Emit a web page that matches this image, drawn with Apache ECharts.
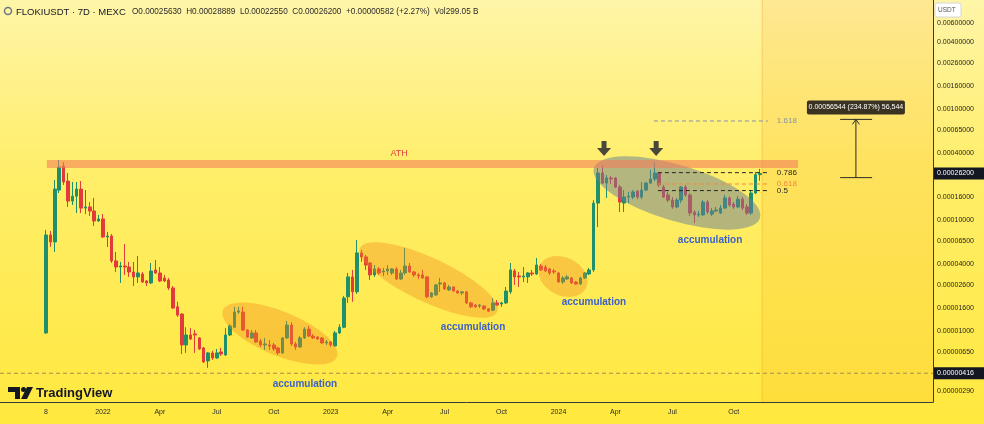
<!DOCTYPE html>
<html><head><meta charset="utf-8">
<script src="https://cdn.jsdelivr.net/npm/echarts@6/dist/echarts.min.js"></script>
<style>
html,body{margin:0;padding:0;}
#c{width:984px;height:424px;background:linear-gradient(to bottom,#fff5a8 0%,#ffee6a 40%,#ffe83e 100%);}
</style>
</head><body><div id="c"></div>
<script>
// ---- Weekly FLOKIUSDT candles (MEXC), first week = 2021-10-04 ----
const opens = [9.6e-6,7.33e-5,6.34e-5,1.86e-4,3.06e-4,2.24e-4,1.48e-4,1.64e-4,1.90e-4,1.28e-4,
1.31e-4,1.205e-4,9.79e-5,1.021e-4,7.03e-5,7.18e-5,4.28e-5,3.77e-5,3.85e-5,3.77e-5,
3.40e-5,3.07e-5,3.26e-5,2.82e-5,2.71e-5,3.55e-5,3.33e-5,3.00e-5,2.88e-5,2.44e-5,
1.65e-5,1.42e-5,7.48e-6,9.2e-6,9.4e-6,8.65e-6,7.03e-6,5.37e-6,6.34e-6,5.71e-6,
6.47e-6,6.08e-6,9.2e-6,1.08e-5,1.48e-5,1.48e-5,1.02e-5,8.65e-6,9.6e-6,8.12e-6,
7.48e-6,7.48e-6,7.48e-6,7.03e-6,6.34e-6,8.65e-6,1.13e-5,7.64e-6,7.18e-6,8.65e-6,
1.04e-5,9.0e-6,8.8e-6,8.65e-6,7.8e-6,7.96e-6,7.33e-6,9.6e-6,1.08e-5,2.03e-5,
3.07e-5,2.25e-5,5.05e-5,4.65e-5,4.10e-5,3.20e-5,3.62e-5,3.40e-5,3.47e-5,3.33e-5,
3.62e-5,2.94e-5,3.33e-5,3.85e-5,3.40e-5,3.20e-5,3.20e-5,3.07e-5,2.03e-5,2.11e-5,
2.65e-5,2.71e-5,2.34e-5,2.49e-5,2.29e-5,2.20e-5,2.25e-5,1.79e-5,1.71e-5,1.68e-5,
1.68e-5,1.58e-5,1.54e-5,1.79e-5,1.75e-5,1.79e-5,2.25e-5,3.47e-5,3.13e-5,3.07e-5,
3.07e-5,3.33e-5,3.26e-5,3.85e-5,3.77e-5,3.62e-5,3.47e-5,3.33e-5,2.76e-5,2.94e-5,
3.00e-5,2.76e-5,2.65e-5,3.00e-5,3.26e-5,3.55e-5,1.42e-4,2.65e-4,2.15e-4,2.39e-4,
2.39e-4,1.98e-4,1.42e-4,1.61e-4,1.61e-4,1.82e-4,1.61e-4,1.86e-4,2.15e-4,2.34e-4,
2.65e-4,1.98e-4,1.68e-4,1.51e-4,1.31e-4,1.51e-4,1.98e-4,1.68e-4,1.18e-4,1.11e-4,
1.11e-4,1.45e-4,1.13e-4,1.205e-4,1.155e-4,1.28e-4,1.58e-4,1.39e-4,1.31e-4,1.54e-4,
1.31e-4,1.155e-4,1.75e-4,2.563e-4];
const highs = [8.13e-5,7.96e-5,2.29e-4,3.47e-4,3.33e-4,2.65e-4,2.20e-4,2.20e-4,2.24e-4,1.86e-4,
1.45e-4,1.58e-4,1.11e-4,1.13e-4,7.80e-5,7.48e-5,5.15e-5,4.19e-5,6.08e-5,4.19e-5,
4.19e-5,4.74e-5,3.40e-5,2.88e-5,4.10e-5,4.36e-5,3.77e-5,3.20e-5,3.00e-5,2.54e-5,
1.83e-5,1.45e-5,1.08e-5,1.06e-5,1.02e-5,8.8e-6,7.18e-6,6.47e-6,6.61e-6,6.89e-6,
7.03e-6,1.06e-5,1.15e-5,1.65e-5,1.65e-5,1.65e-5,1.04e-5,1.02e-5,1.02e-5,8.47e-6,
8.65e-6,8.3e-6,7.8e-6,7.18e-6,8.8e-6,1.23e-5,1.20e-5,7.96e-6,9.0e-6,1.08e-5,
1.11e-5,9.4e-6,9.0e-6,8.8e-6,8.3e-6,8.12e-6,1.00e-5,1.15e-5,2.07e-5,3.33e-5,
3.55e-5,6.60e-5,5.37e-5,4.84e-5,4.19e-5,3.93e-5,3.77e-5,3.70e-5,3.93e-5,3.70e-5,
3.77e-5,3.55e-5,5.60e-5,4.10e-5,3.47e-5,3.33e-5,3.55e-5,3.13e-5,2.25e-5,2.65e-5,
3.00e-5,2.76e-5,2.60e-5,2.54e-5,2.34e-5,2.29e-5,2.29e-5,1.83e-5,1.75e-5,1.75e-5,
1.71e-5,1.61e-5,1.98e-5,1.90e-5,1.83e-5,2.49e-5,4.10e-5,3.62e-5,3.40e-5,3.77e-5,
3.40e-5,3.55e-5,4.55e-5,4.02e-5,3.93e-5,3.70e-5,3.62e-5,3.40e-5,3.13e-5,3.20e-5,
3.07e-5,2.82e-5,3.07e-5,3.40e-5,3.70e-5,1.51e-4,2.94e-4,3.13e-4,2.54e-4,2.49e-4,
2.44e-4,2.07e-4,1.86e-4,1.79e-4,1.86e-4,1.86e-4,2.20e-4,2.20e-4,2.82e-4,3.33e-4,
2.70e-4,2.07e-4,1.79e-4,1.61e-4,1.58e-4,2.02e-4,2.07e-4,1.75e-4,1.23e-4,1.205e-4,
1.51e-4,1.51e-4,1.28e-4,1.31e-4,1.365e-4,1.68e-4,1.64e-4,1.45e-4,1.64e-4,1.61e-4,
1.39e-4,1.86e-4,2.70e-4,2.8889e-4];
const lows = [9.4e-6,5.71e-5,5.15e-5,1.75e-4,2.07e-4,1.31e-4,1.365e-4,1.155e-4,1.155e-4,1.13e-4,
1.087e-4,8.83e-5,9.59e-5,6.89e-5,5.71e-5,4.10e-5,3.40e-5,2.71e-5,3.20e-5,3.07e-5,
2.54e-5,2.71e-5,2.71e-5,2.54e-5,2.65e-5,3.26e-5,2.76e-5,2.76e-5,2.34e-5,1.58e-5,
1.34e-5,6.21e-6,6.34e-6,8.3e-6,6.34e-6,6.75e-6,5.15e-6,4.65e-6,5.48e-6,5.6e-6,
5.96e-6,5.96e-6,9.0e-6,1.06e-5,1.42e-5,1.00e-5,8.65e-6,8.47e-6,7.8e-6,7.18e-6,
6.75e-6,6.75e-6,6.61e-6,6.08e-6,6.21e-6,8.47e-6,7.33e-6,6.75e-6,7.03e-6,8.47e-6,
8.8e-6,8.47e-6,8.3e-6,7.64e-6,7.48e-6,7.18e-6,7.18e-6,9.4e-6,1.06e-5,1.79e-5,
1.83e-5,2.16e-5,4.19e-5,3.55e-5,2.88e-5,3.07e-5,3.20e-5,3.13e-5,3.20e-5,3.20e-5,
2.88e-5,2.88e-5,3.20e-5,3.33e-5,3.07e-5,2.94e-5,2.94e-5,1.98e-5,1.98e-5,2.07e-5,
2.25e-5,2.34e-5,2.29e-5,2.25e-5,2.16e-5,2.11e-5,1.75e-5,1.61e-5,1.61e-5,1.61e-5,
1.54e-5,1.48e-5,1.51e-5,1.68e-5,1.65e-5,1.75e-5,2.16e-5,2.60e-5,2.49e-5,2.76e-5,
2.71e-5,3.13e-5,3.20e-5,3.47e-5,3.40e-5,3.20e-5,3.26e-5,2.71e-5,2.65e-5,2.88e-5,
2.65e-5,2.60e-5,2.60e-5,2.94e-5,3.20e-5,3.40e-5,8.65e-5,2.11e-4,1.58e-4,2.11e-4,
1.94e-4,1.18e-4,1.18e-4,1.42e-4,1.54e-4,1.54e-4,1.54e-4,1.82e-4,2.11e-4,2.24e-4,
1.98e-4,1.58e-4,1.45e-4,1.26e-4,1.28e-4,1.42e-4,1.61e-4,1.087e-4,9.40e-5,1.064e-4,
1.087e-4,1.13e-4,1.087e-4,1.18e-4,1.13e-4,1.26e-4,1.31e-4,1.26e-4,1.28e-4,1.23e-4,
1.11e-4,1.11e-4,1.71e-4,2.255e-4];
const closes = [7.33e-5,6.34e-5,1.90e-4,3.00e-4,2.20e-4,1.48e-4,1.64e-4,1.90e-4,1.28e-4,1.31e-4,
1.205e-4,9.79e-5,1.021e-4,7.03e-5,7.18e-5,4.28e-5,3.77e-5,3.85e-5,3.77e-5,3.40e-5,
3.07e-5,3.33e-5,2.76e-5,2.71e-5,3.47e-5,3.33e-5,2.82e-5,2.82e-5,2.44e-5,1.61e-5,
1.39e-5,7.48e-6,9.2e-6,8.47e-6,9.2e-6,6.89e-6,5.26e-6,6.34e-6,5.71e-6,6.34e-6,
6.21e-6,9.2e-6,1.11e-5,1.48e-5,1.51e-5,1.02e-5,8.8e-6,9.6e-6,7.96e-6,7.48e-6,
7.64e-6,7.33e-6,6.89e-6,6.34e-6,8.65e-6,1.13e-5,7.64e-6,7.18e-6,8.65e-6,1.04e-5,
9.0e-6,8.65e-6,8.47e-6,7.8e-6,7.96e-6,7.48e-6,9.6e-6,1.08e-5,1.98e-5,3.07e-5,
2.25e-5,5.05e-5,4.65e-5,3.93e-5,3.20e-5,3.62e-5,3.33e-5,3.47e-5,3.62e-5,3.62e-5,
2.94e-5,3.33e-5,3.85e-5,3.40e-5,3.20e-5,3.13e-5,3.00e-5,2.03e-5,2.20e-5,2.60e-5,
2.71e-5,2.39e-5,2.49e-5,2.29e-5,2.20e-5,2.25e-5,1.79e-5,1.65e-5,1.65e-5,1.71e-5,
1.58e-5,1.51e-5,1.79e-5,1.71e-5,1.79e-5,2.29e-5,3.55e-5,3.07e-5,3.07e-5,3.13e-5,
3.33e-5,3.26e-5,3.93e-5,3.55e-5,3.47e-5,3.33e-5,3.40e-5,2.76e-5,3.00e-5,3.07e-5,
2.71e-5,2.65e-5,3.00e-5,3.33e-5,3.55e-5,1.42e-4,2.65e-4,2.15e-4,2.39e-4,2.34e-4,
1.98e-4,1.45e-4,1.61e-4,1.64e-4,1.79e-4,1.61e-4,1.86e-4,2.15e-4,2.34e-4,2.65e-4,
2.07e-4,1.61e-4,1.51e-4,1.31e-4,1.51e-4,1.98e-4,1.68e-4,1.155e-4,1.11e-4,1.13e-4,
1.45e-4,1.18e-4,1.205e-4,1.23e-4,1.28e-4,1.58e-4,1.365e-4,1.31e-4,1.54e-4,1.28e-4,
1.155e-4,1.75e-4,2.5618e-4,2.62e-4];

// time axis tick labels (week index -> text)
const xTickIndex = [0,13,26,39,52,65,78,91,104,117,130,143,157];
const xTickText  = ['8','2022','Apr','Jul','Oct','2023','Apr','Jul','Oct','2024','Apr','Jul','Oct'];
// price axis labels
const yTickValues = [0.006,0.004,0.0026,0.0016,0.001,0.00065,0.0004,0.000262,0.00016,0.0001,0.000065,0.00004,0.000026,0.000016,0.00001,0.0000065,0.00000416,0.0000029];
const yHighlighted = [0.000262,0.00000416];
// annotations (week index, price)
const athBand = {from:0.2, to:171.7, low:2.94e-4, high:3.47e-4, label:'ATH', labelAt:80.6};
const fibNames  = ['1.618','0.786','0.618','0.5'];
const fibPrices = [7.8e-4,2.67e-4,2.11e-4,1.84e-4];
const fibFrom = [138.8,139.7,139.7,139.7], fibTo = 164.8;
const ellipses = [ // [idx1, price1, idx2, price2]
  [40.4,1.54e-5,66.4,5.83e-6],
  [71.7,5.60e-5,103.0,1.48e-5],
  [112.8,3.93e-5,123.3,2.44e-5],
  [125.1,2.94e-4,163.0,1.042e-4]
];
const accLabels = [[59.1,3.33e-6],[97.5,1.08e-5],[125.1,1.83e-5],[151.6,6.6e-5]];
const downArrows = [[127.4,3.77e-4],[139.3,3.77e-4]];
const measure = {idx:184.9, from:2.4075e-4, to:8.062e-4, capFrom:181.3, capTo:188.6, text:'0.00056544 (234.87%) 56,544'};

// ---- styling ----
const UP = '#1f8f6c', DOWN = '#e23c3a';
const pad = 10, N = 213;
const GRID_RIGHT = 51;
const ellipseFill = ['rgba(240,140,30,0.38)','rgba(240,140,30,0.38)','rgba(240,140,30,0.38)','rgba(105,125,150,0.5)'];
const ellipseRy = [22,22,19,28];

const chart = echarts.init(document.getElementById('c'));
const cats = [];
const t0 = Date.UTC(2021,9,4) - pad*7*86400000;
for (let k=0;k<N;k++){ cats.push(new Date(t0 + k*7*86400000).toISOString().slice(0,10)); }
const candles = opens.map((o,i)=>[i+pad, o, closes[i], lows[i], highs[i]]);
const tickMap = {};
xTickIndex.forEach((i,j)=>{ tickMap[i+pad] = xTickText[j]; });

chart.setOption({
  animation:false,
  grid:{left:0,right:GRID_RIGHT,top:0,bottom:22,outerBoundsMode:'none'},
  xAxis:{type:'category',data:cats,boundaryGap:true,
    axisLine:{lineStyle:{color:'#3a3a3a',width:1}},axisTick:{show:false},splitLine:{show:false},
    axisLabel:{interval:(idx)=>tickMap[idx]!==undefined,formatter:(v,idx)=>tickMap[idx]||'',
      fontSize:7,color:'#2b2b2b',margin:7,fontFamily:'Liberation Sans, Arial, sans-serif'}},
  yAxis:{type:'log',logBase:10,min:2.29e-6,max:9.6e-3,position:'right',
    axisLine:{show:true,lineStyle:{color:'#3a3a3a'}},axisTick:{show:false},axisLabel:{show:false},splitLine:{show:false}},
  series:[{type:'candlestick',data:candles,encode:{x:0,y:[1,2,3,4]},barWidth:3,
    itemStyle:{color:UP,color0:DOWN,borderColor:UP,borderColor0:DOWN,borderWidth:1}}]
});

function px(idx, price){
  const x0 = idx + pad, k = Math.floor(x0), f = x0 - k;
  const a = chart.convertToPixel({gridIndex:0},[k,price]);
  const b = chart.convertToPixel({gridIndex:0},[k+1,price]);
  return [a[0] + f*(b[0]-a[0]), a[1]];
}
const W = chart.getWidth(), H = chart.getHeight();
const gridR = W - GRID_RIGHT, gridB = H - 22;
const g = [];
function txt(x,y,text,font,fill,align,va,z){
  return {type:'text',x:x,y:y,z:z||20,silent:true,style:{text:text,font:font,fill:fill,textAlign:align||'left',align:align||'left',textVerticalAlign:va||'middle',verticalAlign:va||'middle'}};
}

// future area band
const fb = px(opens.length-0.5, 1e-4);
g.push({type:'rect',z:-1,silent:true,shape:{x:fb[0],y:0,width:gridR-fb[0],height:gridB},style:{fill:'rgba(245,160,20,0.15)'}});
g.push({type:'line',z:-1,silent:true,shape:{x1:fb[0],y1:0,x2:fb[0],y2:gridB},style:{stroke:'rgba(230,150,30,0.35)',lineWidth:1}});

// ATH band
const a1 = px(athBand.from, athBand.high), a2 = px(athBand.to, athBand.low);
g.push({type:'rect',z:12,silent:true,shape:{x:a1[0],y:a1[1],width:a2[0]-a1[0],height:a2[1]-a1[1]},style:{fill:'rgba(245,125,90,0.58)'}});
const al = px(athBand.labelAt, athBand.high);
g.push(txt(al[0],al[1]-7,athBand.label,'9px Liberation Sans','#e2403a','center','middle'));

// ellipses
ellipses.forEach((e,i)=>{
  const p1 = px(e[0],e[1]), p2 = px(e[2],e[3]);
  const cx=(p1[0]+p2[0])/2, cy=(p1[1]+p2[1])/2;
  const rx = Math.hypot(p2[0]-p1[0],p2[1]-p1[1])/2, ry = ellipseRy[i];
  const ang = Math.atan2(p2[1]-p1[1],p2[0]-p1[0]);
  g.push({type:'circle',z:11,silent:true,x:cx,y:cy,rotation:-ang,scaleX:rx/ry,scaleY:1,shape:{cx:0,cy:0,r:ry},style:{fill:ellipseFill[i]}});
});
accLabels.forEach(l=>{
  const p = px(l[0],l[1]);
  g.push(txt(p[0],p[1],'accumulation','bold 10px Liberation Sans','#3d62c8','center','middle'));
});

// fib levels
const fibColors = ['#8791a6','#262626','#ef8a3a','#262626'];
fibPrices.forEach((v,i)=>{
  const s = px(fibFrom[i],v), e = px(fibTo,v);
  g.push({type:'line',z:13,silent:true,shape:{x1:s[0],y1:s[1],x2:e[0],y2:e[1]},style:{stroke:fibColors[i],lineWidth:1,lineDash:[4,3]}});
  g.push(txt(e[0]+9,e[1],fibNames[i],'8px Liberation Sans',fibColors[i],'left','middle'));
});

// down arrows
downArrows.forEach(d=>{
  const p = px(d[0],d[1]); const x=p[0], y=p[1];
  g.push({type:'polygon',z:14,silent:true,shape:{points:[[x-2.5,y-15],[x+2.5,y-15],[x+2.5,y-8],[x+7,y-8],[x,y],[x-7,y-8],[x-2.5,y-8]]},style:{fill:'#4a4738'}});
});

// measure arrow
const mb = px(measure.idx,measure.from), mt = px(measure.idx,measure.to);
const c1 = px(measure.capFrom,measure.from), c2 = px(measure.capTo,measure.from);
const c3 = px(measure.capFrom,measure.to), c4 = px(measure.capTo,measure.to);
const ms = {stroke:'#2b2b26',lineWidth:1};
g.push({type:'line',z:14,silent:true,shape:{x1:mb[0],y1:mb[1],x2:mt[0],y2:mt[1]},style:ms});
g.push({type:'line',z:14,silent:true,shape:{x1:c1[0],y1:c1[1],x2:c2[0],y2:c2[1]},style:ms});
g.push({type:'line',z:14,silent:true,shape:{x1:c3[0],y1:c3[1],x2:c4[0],y2:c4[1]},style:ms});
g.push({type:'polyline',z:14,silent:true,shape:{points:[[mt[0]-3.5,mt[1]+5],[mt[0],mt[1]],[mt[0]+3.5,mt[1]+5]]},style:{stroke:'#2b2b26',lineWidth:1,fill:null}});
g.push({type:'rect',z:15,silent:true,shape:{x:mt[0]-49,y:mt[1]-19,width:98,height:14,r:2},style:{fill:'#3a3322'}});
g.push(txt(mt[0],mt[1]-12,measure.text,'7px Liberation Sans','#ffffff','center','middle',16));

// dashed price line for the low label
const ln = px(-pad, yHighlighted[1]);
g.push({type:'line',z:5,silent:true,shape:{x1:0,y1:ln[1],x2:gridR,y2:ln[1]},style:{stroke:'#a08c55',lineWidth:1,lineDash:[4,3]}});

// price axis labels
yTickValues.forEach(v=>{
  const y = px(0,v)[1];
  const hl = yHighlighted.indexOf(v) >= 0;
  if (hl) g.push({type:'rect',z:18,silent:true,shape:{x:gridR+1,y:y-6,width:50,height:12},style:{fill:'#131722'}});
  g.push(txt(gridR+4,y,v.toFixed(8),'7px Liberation Sans',hl?'#ffffff':'#1f1f1f','left','middle',19));
});
// USDT box
g.push({type:'rect',z:18,silent:true,shape:{x:gridR+2,y:3,width:26,height:14,r:2},style:{fill:'#ffffff',stroke:'#d6d6d6',lineWidth:1}});
g.push(txt(gridR+5,10,'USDT','6.5px Liberation Sans','#555555','left','middle',19));

// title
g.push({type:'circle',z:20,silent:true,shape:{cx:8,cy:11,r:3.5},style:{fill:'none',stroke:'#6b7785',lineWidth:1.5}});
g.push(txt(16,12,'FLOKIUSDT · 7D · MEXC','9.5px Liberation Sans','#131722','left','middle'));
g.push(txt(132,12,'O0.00025630  H0.00028889  L0.00022550  C0.00026200  +0.00000582 (+2.27%)  Vol299.05 B','8.2px Liberation Sans','#2a2a2a','left','middle'));

// TradingView logo
g.push({type:'polygon',z:20,silent:true,shape:{points:[[8,387],[20,387],[20,399],[15,399],[15,392],[8,392]]},style:{fill:'#131722'}});
g.push({type:'circle',z:20,silent:true,shape:{cx:23.5,cy:389.5,r:2.5},style:{fill:'#131722'}});
g.push({type:'polygon',z:20,silent:true,shape:{points:[[27,387],[33,387],[27,399],[21,399]]},style:{fill:'#131722'}});
g.push(txt(36,393,'TradingView','bold 13px Liberation Sans','#131722','left','middle'));

chart.setOption({graphic:{elements:g}});
</script>
</body></html>
